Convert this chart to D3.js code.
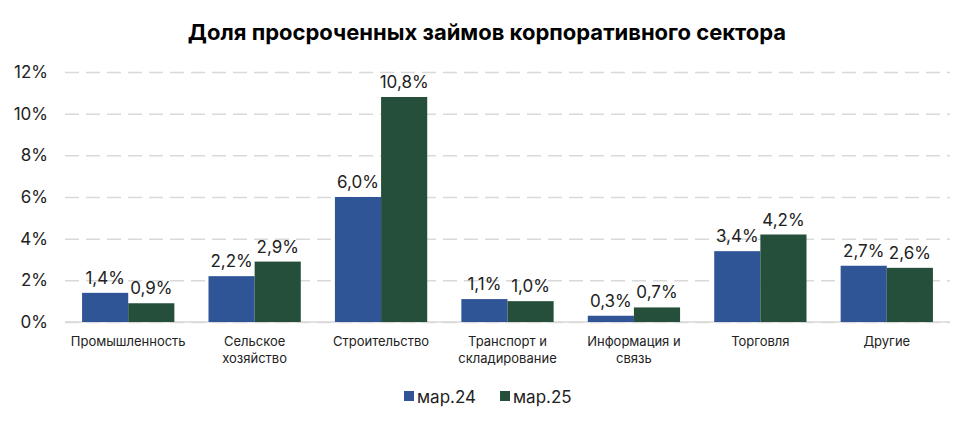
<!DOCTYPE html><html><head><meta charset="utf-8"><script src="https://cdn.jsdelivr.net/npm/d3@7"></script>
<style>body{margin:0;background:#fff;font-family:Inter,sans-serif}</style></head><body><svg width="974" height="429"></svg>
<script>
const categories=[["Промышленность"],["Сельское","хозяйство"],["Строительство"],["Транспорт и","складирование"],["Информация и","связь"],["Торговля"],["Другие"]];
const series=["мар.24","мар.25"];
const v24=[1.4,2.2,6.0,1.1,0.3,3.4,2.7];
const v25=[0.9,2.9,10.8,1.0,0.7,4.2,2.6];
const ticks=[0,2,4,6,8,10,12];
const colors=["#2F5597","#264F3B"];
const svg=d3.select("svg");
const L=65,R=950,T=72,B=322;
const x=d3.scaleBand().domain(d3.range(7)).range([L,R]).paddingInner(0.27).paddingOuter(0.135);
const xs=d3.scaleBand().domain([0,1]).range([0,x.bandwidth()]);
const y=d3.scaleLinear().domain([0,12]).range([B,T]);
svg.append("text").attr("x",487).attr("y",40).attr("text-anchor","middle").attr("font-size",22).attr("font-weight",700).text("Доля просроченных займов корпоративного сектора");
const yg=svg.append("g").attr("transform",`translate(${L},0)`).call(d3.axisLeft(y).tickValues(ticks).tickSize(-(R-L)).tickFormat(d=>d+"%"));
yg.select(".domain").remove();
yg.selectAll(".tick line").attr("stroke","#d9d9d9").attr("stroke-width",1.5).attr("stroke-dasharray","14,7");
yg.selectAll(".tick text").attr("x",-17).attr("font-size",17).attr("fill","#222").attr("font-family","Inter,sans-serif");
svg.append("line").attr("x1",L).attr("x2",R).attr("y1",B).attr("y2",B).attr("stroke","#d9d9d9").attr("stroke-width",1.5);
[v24,v25].forEach((vals,s)=>{
 const g=svg.append("g");
 g.selectAll("rect").data(vals).join("rect").attr("x",(d,i)=>x(i)+xs(s)).attr("width",xs.bandwidth()).attr("y",d=>y(d)).attr("height",d=>B-y(d)).attr("fill",colors[s]);
 g.selectAll("text").data(vals).join("text").attr("x",(d,i)=>x(i)+xs(s)+xs.bandwidth()/2).attr("y",d=>y(d)-9).attr("text-anchor","middle").attr("font-size",17).attr("fill","#222").text(d=>d.toFixed(1).replace(".",",")+"%");
});
const cg=svg.append("g");
categories.forEach((c,i)=>{
 const t=cg.append("text").attr("x",x(i)+x.bandwidth()/2).attr("y",346).attr("text-anchor","middle").attr("font-size",13).attr("fill","#222");
 c.forEach((line,j)=>t.append("tspan").attr("x",x(i)+x.bandwidth()/2).attr("dy",j?17:0).text(line));
});
const lg=svg.append("g");
const lx=[404,500];
series.forEach((s,i)=>{
 lg.append("rect").attr("x",lx[i]).attr("y",391).attr("width",10).attr("height",10).attr("fill",colors[i]);
 lg.append("text").attr("x",lx[i]+13).attr("y",403).attr("font-size",17).attr("fill","#222").text(s);
});
</script></body></html>
